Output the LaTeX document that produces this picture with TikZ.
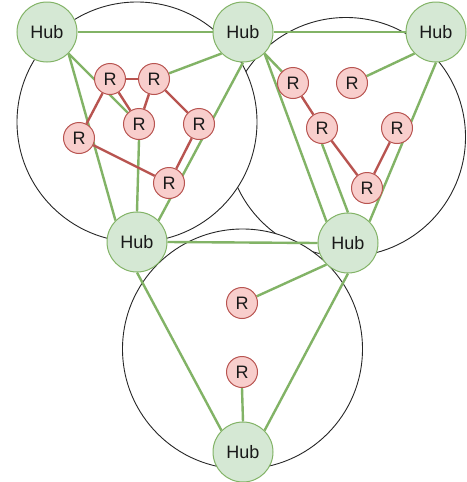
\documentclass[tikz,border=0pt]{standalone}
\usepackage{fontspec}
\setmainfont{Liberation Sans}
\definecolor{hubfill}{HTML}{D5E8D4}
\definecolor{hubdraw}{HTML}{82B366}
\definecolor{rfill}{HTML}{F8CECC}
\definecolor{rdraw}{HTML}{B85450}
\pgfdeclarelayer{zones}
\pgfdeclarelayer{links}
\pgfsetlayers{zones,links,main}
\begin{document}
\begin{tikzpicture}[x=1pt,y=-1pt,
  hub/.style={circle,draw=hubdraw,fill=hubfill,line width=1pt,minimum size=60pt,inner sep=0pt,font=\fontsize{18}{21}\selectfont,text=black!90},
  rnode/.style={circle,draw=rdraw,fill=rfill,line width=1pt,minimum size=31pt,inner sep=0pt,font=\fontsize{18}{21}\selectfont,text=black!90},
  zone/.style={draw=black!85,fill=white,line width=0.9pt},
  gl/.style={draw=hubdraw,line width=2.4pt},
  rl/.style={draw=rdraw,line width=2.4pt}]
\useasboundingbox (0,0) rectangle (466,482);
% zones
\begin{pgfonlayer}{zones}
\draw[zone] (346,137) circle (119.5);
\draw[zone] (242.5,349) circle (120);
\draw[zone] (137,122) circle (120);
\end{pgfonlayer}
% hubs
\node[hub] (H1) at (47,32) {Hub};
\node[hub] (H2) at (243,32) {Hub};
\node[hub] (H3) at (436,32) {Hub};
\node[hub] (H4) at (137,242) {Hub};
\node[hub] (H5) at (348,243) {Hub};
\node[hub] (H6) at (243,452) {Hub};
% routers
\node[rnode] (Ra) at (110,79) {R};
\node[rnode] (Rb) at (154,79) {R};
\node[rnode] (Rc) at (139,124) {R};
\node[rnode] (Rd) at (199,124) {R};
\node[rnode] (Re) at (79,138) {R};
\node[rnode] (Rf) at (169,183) {R};
\node[rnode] (Rg) at (293,83) {R};
\node[rnode] (Rh) at (352,83) {R};
\node[rnode] (Ri) at (322,128) {R};
\node[rnode] (Rj) at (397,128) {R};
\node[rnode] (Rk) at (367,188) {R};
\node[rnode] (Rl) at (242,303) {R};
\node[rnode] (Rm) at (242,372) {R};
% connectors
\begin{pgfonlayer}{links}
\draw[gl] (H1.east) -- (H2.west);
\draw[gl] (H2.east) -- (H3.west);
\draw[gl] (H4.east) -- (H5.west);
\draw[gl] (H1.south east) -- (Rc);
\draw[gl] (H1.south east) -- (H4.north west);
\draw[gl] (H2.south west) -- (Rb);
\draw[gl] (H2.south) -- (H4.north east);
\draw[gl] (Rc.south) -- (H4.north);
\draw[gl] (H2.south east) -- (Rg);
\draw[gl] (H2.south east) -- (H5.north west);
\draw[gl] (H3.south west) -- (Rh);
\draw[gl] (H3.south) -- (H5.north east);
\draw[gl] (Ri.south) -- (H5.north);
\draw[gl] (H5.south west) -- (Rl);
\draw[gl] (H4.south) -- (H6.north west);
\draw[gl] (H5.south) -- (H6.north east);
\draw[gl] (Rm.south) -- (H6.north);
\draw[rl] (Ra) -- (Rb);
\draw[rl] (Ra) -- (Rc);
\draw[rl] (Rb) -- (Rc);
\draw[rl] (Ra) -- (Re);
\draw[rl] (Rb) -- (Rd);
\draw[rl] (Re) -- (Rf);
\draw[rl] (Rd) -- (Rf);
\draw[rl] (Rg) -- (Ri);
\draw[rl] (Ri) -- (Rk);
\draw[rl] (Rj) -- (Rk);
\end{pgfonlayer}
\end{tikzpicture}
\end{document}
